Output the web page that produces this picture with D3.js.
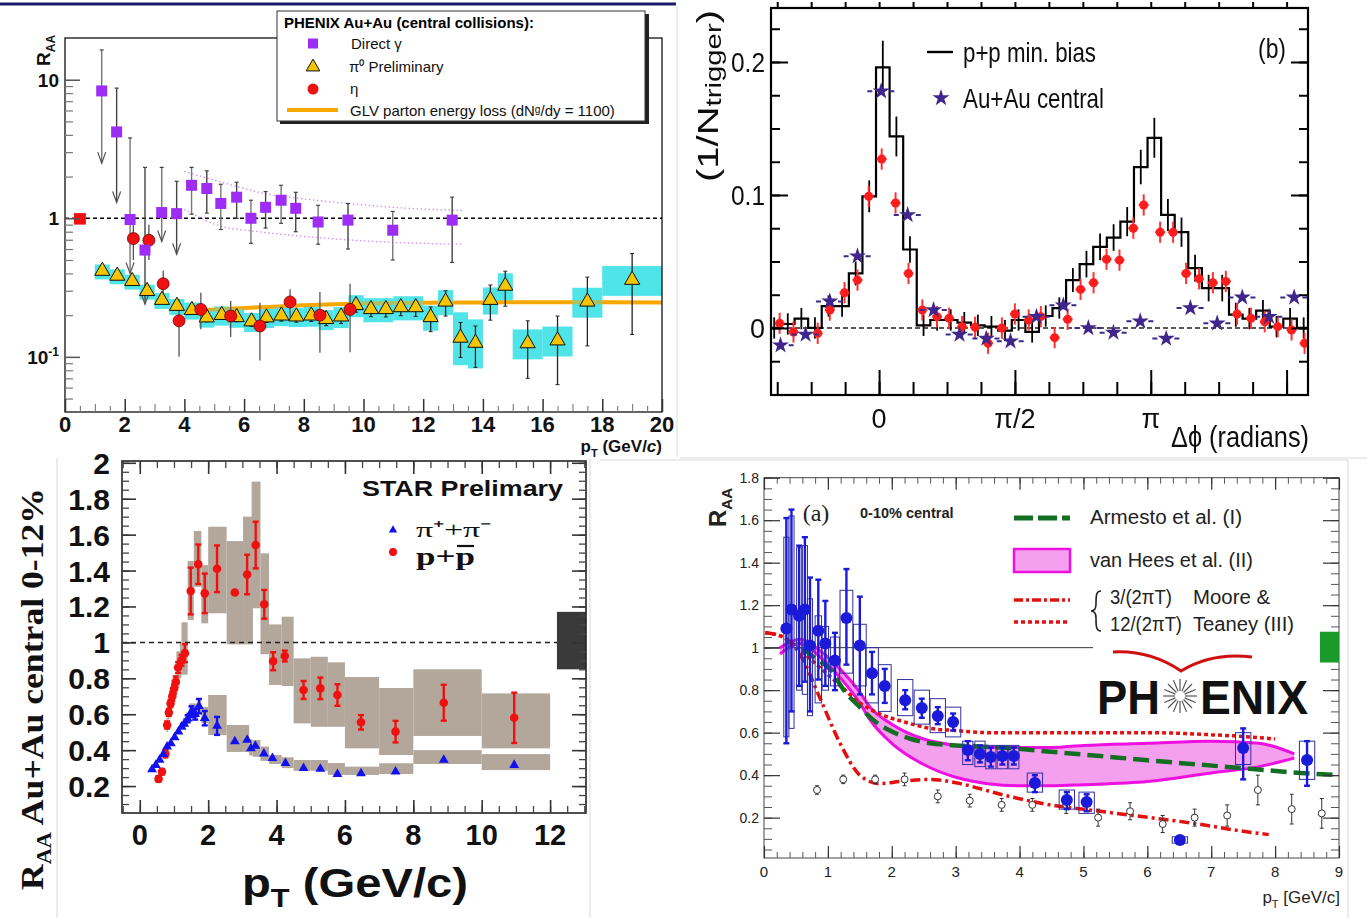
<!DOCTYPE html>
<html><head><meta charset="utf-8">
<script src="https://cdn.jsdelivr.net/npm/d3@7"></script>
<style>body{margin:0;background:#fff}svg{display:block}</style>
</head><body>
<svg id="chart"></svg>
<script>
// ================= data: PHENIX Au+Au RAA (log scale) =================
const gammaPt    = [1.23,1.73,2.18,2.68,3.24,3.74,4.24,4.75,5.22,5.75,6.23,6.72,7.24,7.73,8.48,9.48,10.98,12.97];
const gammaRaa   = [8.3,4.2,0.98,0.59,1.10,1.08,1.73,1.64,1.28,1.42,1.00,1.20,1.35,1.18,0.94,0.97,0.82,0.97];
const gammaHi    = [16.4,8.7,3.8,2.33,2.33,1.85,2.33,2.2,1.76,1.82,1.35,1.56,1.73,1.54,1.24,1.28,1.12,1.42];
const gammaLo    = [2.5,1.3,0.4,0.24,0.68,0.55,1.07,1.09,0.83,1.0,0.66,0.85,0.92,0.8,0.65,0.6,0.5,0.48];
const gammaLimit = [1,1,1,1,1,1,0,0,0,0,0,0,0,0,0,0,0,0];
const gammaBandUpPt  = [4.0,5.4,6.75,8.0,9.8,11.5,13.3];
const gammaBandUp    = [2.18,1.78,1.5,1.38,1.26,1.18,1.14];
const gammaBandLoPt  = [4.0,5.2,6.5,8.0,9.0,11.0,13.3];
const gammaBandLo    = [1.16,0.88,0.8,0.74,0.71,0.67,0.65];

const pi0Pt    = [1.25,1.75,2.25,2.75,3.25,3.75,4.25,4.75,5.25,5.75,6.25,6.75,7.25,7.75,8.25,8.75,9.25,9.75,10.25,10.75,11.25,11.75,12.25,12.75,13.25,13.75,14.25,14.75,15.5,16.5,17.5,19];
const pi0Raa   = [0.41,0.378,0.346,0.293,0.253,0.229,0.214,0.189,0.197,0.19,0.177,0.189,0.195,0.192,0.195,0.184,0.192,0.232,0.217,0.217,0.224,0.224,0.19,0.246,0.135,0.124,0.253,0.32,0.123,0.129,0.246,0.353];
const pi0Hi    = [0.425,0.392,0.36,0.305,0.265,0.24,0.225,0.2,0.208,0.201,0.188,0.202,0.209,0.206,0.21,0.2,0.21,0.255,0.24,0.24,0.25,0.252,0.229,0.3,0.177,0.167,0.33,0.415,0.182,0.197,0.376,0.557];
const pi0Lo    = [0.395,0.364,0.333,0.281,0.242,0.218,0.203,0.179,0.186,0.179,0.166,0.177,0.181,0.178,0.18,0.168,0.174,0.21,0.195,0.194,0.198,0.196,0.152,0.197,0.099,0.084,0.184,0.232,0.07,0.063,0.12,0.145];
const pi0BinLo = [1.0,1.5,2.0,2.5,3.0,3.5,4.0,4.5,5.0,5.5,6.0,6.5,7.0,7.5,8.0,8.5,9.0,9.5,10.0,10.5,11.0,11.5,12.0,12.5,13.0,13.5,14.0,14.5,15,16,17,18];
const pi0BinHi = [1.5,2.0,2.5,3.0,3.5,4.0,4.5,5.0,5.5,6.0,6.5,7.0,7.5,8.0,8.5,9.0,9.5,10.0,10.5,11.0,11.5,12.0,12.5,13.0,13.5,14.0,14.5,15,16,17,18,20];
const pi0SysFactor = [1.13,1.13,1.13,1.13,1.14,1.14,1.15,1.16,1.17,1.17,1.17,1.17,1.17,1.17,1.18,1.18,1.19,1.2,1.22,1.22,1.22,1.22,1.23,1.23,1.55,1.5,1.25,1.25,1.28,1.28,1.28,1.28];

const etaPt  = [2.29,2.81,3.29,3.82,4.55,5.55,6.53,7.54,8.54,9.55];
const etaRaa = [0.714,0.694,0.337,0.182,0.22,0.197,0.167,0.249,0.2,0.22];
const etaHi  = [0.95,0.9,0.42,0.26,0.29,0.253,0.246,0.307,0.294,0.337];
const etaLo  = [0.5,0.5,0.27,0.1,0.158,0.139,0.094,0.192,0.107,0.108];

const glvPt  = [4.4,5,6,7,8,9,10,12,14,16,18,20];
const glvRaa = [0.215,0.22,0.225,0.23,0.236,0.24,0.243,0.246,0.247,0.248,0.248,0.247];

const aYTicks = [0.1, 1, 10];
const aXTicks = [0,2,4,6,8,10,12,14,16,18,20];

// ================= data: azimuthal correlations =================
const ppPhi   = [-1.213,-1.056,-0.899,-0.742,-0.585,-0.428,-0.271,-0.114,0.043,0.200,0.357,0.514,0.671,0.828,0.985,1.142,1.299,1.456,1.613,1.770,1.927,2.084,2.241,2.398,2.555,2.712,2.869,3.026,3.183,3.340,3.497,3.654,3.811,3.968,4.125,4.282,4.439,4.596,4.753,4.910];
const ppYield = [0.000,0.003,0.007,0.000,0.0165,0.0165,0.041,0.099,0.196,0.144,0.059,0.002,0.006,0.006,0.004,0.002,0.001,-0.002,0.006,-0.003,0.009,0.015,0.036,0.048,0.061,0.068,0.080,0.121,0.143,0.085,0.072,0.045,0.030,0.030,0.010,0.007,0.013,0.001,0.007,0.000];
const ppErr   = [0.008,0.008,0.008,0.008,0.008,0.008,0.009,0.012,0.02,0.015,0.01,0.008,0.008,0.008,0.008,0.008,0.008,0.008,0.008,0.008,0.008,0.008,0.009,0.01,0.01,0.01,0.011,0.013,0.015,0.012,0.011,0.01,0.01,0.01,0.009,0.008,0.008,0.008,0.008,0.008];
const ppBinWidth = 0.157;

const auPhi   = [-1.14,-0.85,-0.57,-0.25,0.024,0.33,0.63,0.93,1.24,1.52,1.82,2.13,2.42,2.71,3.02,3.32,3.60,3.91,4.20,4.51,4.80];
const auYield = [-0.013,-0.005,0.020,0.054,0.178,0.085,0.0135,-0.005,-0.008,-0.010,0.0085,0.017,0.0,-0.0035,0.005,-0.008,0.015,0.0035,0.023,0.0085,0.023];
const auHalfWidth = 0.16;

const daPhi   = [-1.15,-0.99,-0.71,-0.57,-0.40,-0.25,-0.12,0.03,0.19,0.34,0.50,0.67,0.81,0.96,1.11,1.26,1.42,1.57,1.73,1.87,2.03,2.18,2.33,2.48,2.63,2.78,2.94,3.06,3.25,3.40,3.55,3.70,3.86,4.01,4.14,4.30,4.46,4.61,4.77,4.92];
const daYield = [0.0035,-0.003,-0.004,0.0135,0.0265,0.036,0.099,0.127,0.094,0.041,0.0135,0.0085,0.0073,0.001,0.0005,-0.0115,0.0,0.0105,0.006,0.0085,-0.0073,0.0065,0.029,0.034,0.0517,0.051,0.075,0.0925,0.072,0.072,0.041,0.037,0.034,0.035,0.0105,0.0073,0.0047,0.001,-0.0015,-0.0115];
const daErr   = 0.008;

const bXTicks = [0, Math.PI/2, Math.PI, 3*Math.PI/2];
const bXLabels = ["0", "\u03c0/2", "\u03c0", ""];
const bYTicks = [0, 0.1, 0.2];

// ================= data: STAR identified RAA =================
const protonPt  = [0.55,0.65,0.75,0.8,0.85,0.9,0.95,1.0,1.05,1.12,1.22,1.32,1.49,1.71,1.90,2.26,2.78,3.14,3.39,3.64,3.90,4.24,4.79,5.28,5.78,6.47,7.48,8.89,10.95];
const protonRaa = [0.24,0.28,0.38,0.54,0.61,0.66,0.70,0.74,0.78,0.86,0.9,0.94,1.286,1.435,1.273,1.41,1.278,1.378,1.542,1.212,0.895,0.924,0.735,0.744,0.707,0.555,0.503,0.664,0.58];
const protonErr = [0.015,0.015,0.02,0.02,0.02,0.02,0.025,0.025,0.03,0.03,0.03,0.05,0.13,0.11,0.11,0.13,0,0.11,0.13,0.08,0.05,0.03,0.05,0.06,0.06,0.04,0.06,0.1,0.14];
const protonSysLo = [0.22,0.26,0.35,0.5,0.57,0.62,0.66,0.75,0.75,0.76,0.8,0.82,1.125,1.31,1.106,1.162,0.989,0.989,1.19,0.934,0.763,0.757,0.549,0.53,0.53,0.41,0.373,0.479,0.41];
const protonSysHi = [0.26,0.3,0.41,0.58,0.65,0.7,0.74,0.8,0.82,0.95,1.0,1.112,1.453,1.62,1.43,1.644,1.564,1.70,1.895,1.496,1.10,1.143,0.911,0.92,0.889,0.807,0.746,0.85,0.716];
const protonBinLo = [0.52,0.62,0.72,0.78,0.83,0.88,0.93,0.97,1.02,1.07,1.17,1.22,1.4,1.58,1.8,2.0,2.54,3.02,3.27,3.53,3.78,4.15,4.5,5.0,5.5,6.0,7.0,8.0,10.0];
const protonBinHi = [0.58,0.68,0.78,0.82,0.87,0.92,0.97,1.03,1.07,1.17,1.22,1.4,1.58,1.8,2.0,2.54,3.02,3.31,3.53,3.78,4.15,4.5,5.0,5.5,6.0,7.0,8.0,10.0,12.0];

const pionPt  = [0.36,0.47,0.58,0.69,0.80,0.91,1.02,1.13,1.22,1.30,1.40,1.51,1.62,1.73,1.90,2.26,2.78,3.14,3.25,3.38,3.63,3.88,4.26,4.79,5.28,5.78,6.47,7.48,8.89,10.95];
const pionRaa = [0.293,0.317,0.345,0.378,0.419,0.438,0.471,0.503,0.53,0.546,0.575,0.614,0.6,0.645,0.578,0.535,0.448,0.457,0.41,0.423,0.38,0.355,0.327,0.299,0.296,0.266,0.27,0.28,0.345,0.317];
const pionErr = [0,0,0,0,0,0,0,0,0,0,0.02,0.03,0.03,0.04,0.04,0.05,0,0,0,0,0,0,0,0,0,0,0,0,0,0];
const pionSysLo = [0.293,0.317,0.345,0.378,0.419,0.438,0.471,0.503,0.53,0.52,0.55,0.58,0.58,0.6,0.55,0.484,0.39,0.39,0.37,0.363,0.34,0.323,0.3,0.285,0.285,0.262,0.262,0.267,0.323,0.289];
const pionSysHi = [0.293,0.317,0.345,0.378,0.419,0.438,0.471,0.503,0.53,0.58,0.61,0.66,0.66,0.68,0.64,0.707,0.54,0.54,0.46,0.456,0.42,0.373,0.36,0.345,0.345,0.328,0.308,0.327,0.4,0.378];
const pionBinLo = [0.33,0.44,0.55,0.66,0.77,0.88,0.99,1.1,1.18,1.26,1.35,1.45,1.58,1.7,1.8,2.0,2.54,3.02,3.2,3.3,3.53,3.78,4.15,4.5,5.0,5.5,6.0,7.0,8.0,10.0];
const pionBinHi = [0.39,0.5,0.61,0.72,0.83,0.94,1.05,1.16,1.26,1.34,1.45,1.58,1.7,1.8,2.0,2.54,3.02,3.2,3.3,3.53,3.78,4.15,4.5,5.0,5.5,6.0,7.0,8.0,10.0,12.0];

const cYTicks = [0.2,0.4,0.6,0.8,1,1.2,1.4,1.6,1.8,2];
const cXTicks = [0,2,4,6,8,10,12];

// ================= data: PHENIX heavy-flavour electron RAA =================
const hfPt    = [0.35,0.43,0.55,0.64,0.72,0.85,0.96,1.11,1.29,1.5,1.69,1.89,2.21,2.47,2.72,2.96,3.19,3.38,3.55,3.73,3.91,4.24,4.74,5.05,6.51,7.5,8.5];
const hfRaa   = [1.09,1.18,1.15,1.18,1.01,1.08,1.02,0.94,1.14,1.01,0.88,0.82,0.753,0.716,0.678,0.65,0.518,0.50,0.485,0.49,0.49,0.363,0.283,0.274,0.095,0.528,0.471];
const hfHi    = [1.61,1.65,1.48,1.52,1.33,1.32,1.22,1.07,1.37,1.24,0.98,0.9,0.8,0.76,0.72,0.69,0.56,0.54,0.53,0.53,0.53,0.4,0.32,0.31,0.11,0.62,0.56];
const hfLo    = [0.55,0.7,0.82,0.84,0.7,0.85,0.82,0.8,0.92,0.78,0.78,0.74,0.71,0.67,0.64,0.61,0.47,0.46,0.44,0.45,0.45,0.32,0.24,0.23,0.08,0.38,0.35];
const hfSysLo = [0.58,0.62,0.8,0.78,0.68,0.74,0.8,0.82,0.88,0.82,0.74,0.7,0.68,0.64,0.6,0.58,0.45,0.44,0.43,0.43,0.43,0.32,0.24,0.22,0.08,0.45,0.38];
const hfSysHi = [1.52,1.62,1.47,1.48,1.23,1.15,1.1,1.05,1.27,1.11,1.0,0.92,0.85,0.8,0.76,0.72,0.56,0.56,0.54,0.54,0.54,0.41,0.33,0.32,0.11,0.6,0.56];
const hfHalfW = [0.04,0.04,0.04,0.04,0.04,0.05,0.05,0.07,0.1,0.1,0.1,0.1,0.12,0.12,0.12,0.12,0.08,0.08,0.08,0.08,0.08,0.12,0.12,0.12,0.12,0.12,0.12];

const ePhxPt  = [0.83,1.24,1.74,2.2,2.72,3.22,3.72,4.2,4.73,5.23,5.73,6.24,6.74,7.25,7.73,8.26,8.73];
const ePhxRaa = [0.33,0.38,0.38,0.38,0.3,0.28,0.26,0.26,0.26,0.2,0.23,0.17,0.2,0.21,0.33,0.24,0.22];
const ePhxErr = [0.02,0.02,0.02,0.03,0.03,0.03,0.03,0.03,0.04,0.04,0.04,0.04,0.04,0.05,0.07,0.07,0.07];

const armPt  = [0.6,0.8,1.03,1.25,1.5,1.75,1.97,2.3,2.6,3.0,3.7,4.5,5.26,6.0,6.8,7.6,8.4,9.0];
const armRaa = [1.0,0.95,0.9,0.8,0.72,0.65,0.61,0.57,0.55,0.54,0.53,0.51,0.49,0.47,0.45,0.43,0.41,0.4];

const vhPt = [0.25,0.56,0.9,1.19,1.5,1.66,2.0,2.5,3.0,3.5,4.0,4.5,5.0,6.0,7.0,7.75,8.3];
const vhUp = [1.0,1.04,0.98,0.9,0.79,0.72,0.64,0.57,0.54,0.53,0.53,0.53,0.54,0.55,0.56,0.55,0.5];
const vhLo = [0.97,1.02,0.95,0.86,0.74,0.66,0.55,0.45,0.39,0.36,0.35,0.35,0.355,0.37,0.41,0.44,0.48];

const mt3Pt  = [0.02,0.3,0.56,0.88,1.19,1.5,1.8,2.13,2.6,3.07,3.7,4.48,5.26,6.04,6.8,7.4,7.9];
const mt3Raa = [1.07,1.05,0.97,0.76,0.55,0.4,0.36,0.37,0.38,0.36,0.31,0.26,0.23,0.2,0.17,0.14,0.12];
const mt12Pt  = [0.02,0.3,0.56,0.9,1.2,1.5,1.8,2.2,2.6,3.0,3.5,4.0,5.0,6.0,7.0,7.6,8.0];
const mt12Raa = [1.07,1.05,0.99,0.9,0.82,0.74,0.69,0.65,0.62,0.61,0.6,0.6,0.6,0.6,0.59,0.58,0.57];

const dYTicks = [0.2,0.4,0.6,0.8,1,1.2,1.4,1.6,1.8];
const dXTicks = [0,1,2,3,4,5,6,7,8,9];

// ================= drawing helpers =================
const W = 1367, H = 918;
const svg = d3.select("#chart").attr("width", W).attr("height", H);
svg.append("rect").attr("width", W).attr("height", H).attr("fill", "#fff");

const SANS = "'Liberation Sans', Arial, Helvetica, sans-serif";
const SERIF = "'Liberation Serif', 'Times New Roman', serif";

function ticks(g, axisFn, scale, values, len, pos, color, width) {
  const ax = axisFn(scale).tickValues(values).tickSize(len).tickFormat("");
  const sel = g.append("g").attr("transform", pos).call(ax);
  sel.select(".domain").remove();
  sel.selectAll("line").attr("stroke", color || "#222").attr("stroke-width", width || 1.2);
  return sel;
}
function vbar(g, x, y1, y2, color, w) {
  g.append("line").attr("x1", x).attr("x2", x).attr("y1", y1).attr("y2", y2)
    .attr("stroke", color).attr("stroke-width", w || 1.2);
}
function hbar(g, x1, x2, y, color, w, dash) {
  const l = g.append("line").attr("x1", x1).attr("x2", x2).attr("y1", y).attr("y2", y)
    .attr("stroke", color).attr("stroke-width", w || 1.2);
  if (dash) l.attr("stroke-dasharray", dash);
  return l;
}
function range(a, b, s) { const r = []; for (let v = a; v <= b + 1e-9; v += s) r.push(+v.toFixed(4)); return r; }

// panel borders
const border = svg.append("g").attr("stroke", "#d8d8d8").attr("stroke-width", 1).attr("fill", "none");
border.append("line").attr("x1", 677).attr("x2", 677).attr("y1", 6).attr("y2", 457);
border.append("line").attr("x1", 680).attr("x2", 1367).attr("y1", 458).attr("y2", 458);
border.append("line").attr("x1", 57).attr("x2", 57).attr("y1", 458).attr("y2", 918);
border.append("line").attr("x1", 590).attr("x2", 590).attr("y1", 458).attr("y2", 918);
border.append("line").attr("x1", 600).attr("x2", 1348).attr("y1", 460).attr("y2", 460);
border.append("line").attr("x1", 1348).attr("x2", 1348).attr("y1", 460).attr("y2", 918);

// ================= panel A =================
{
  const g = svg.append("g");
  const x = d3.scaleLinear().domain([0, 20]).range([65, 662]);
  const y = d3.scaleLog().domain([0.04, 20]).range([412, 38]);
  const [L, R] = x.range(), [B, T] = y.range();

  g.append("line").attr("x1", 0).attr("x2", 676).attr("y1", 4).attr("y2", 4)
    .attr("stroke", "#1b1b6b").attr("stroke-width", 3);

  // systematic boxes for pi0
  const boxes = (op) => g.append("g").attr("opacity", op).selectAll("rect").data(pi0Pt).join("rect")
    .attr("x", (d, i) => x(pi0BinLo[i])).attr("width", (d, i) => x(pi0BinHi[i]) - x(pi0BinLo[i]))
    .attr("y", (d, i) => y(pi0Raa[i] * pi0SysFactor[i]))
    .attr("height", (d, i) => y(pi0Raa[i] / pi0SysFactor[i]) - y(pi0Raa[i] * pi0SysFactor[i]))
    .attr("fill", "#4fe4e8");
  boxes(1);
  // GLV curve
  const line = d3.line().x(d => x(d[0])).y(d => y(d[1])).curve(d3.curveMonotoneX);
  g.append("path").attr("d", line(glvPt.map((p, i) => [p, glvRaa[i]])))
    .attr("fill", "none").attr("stroke", "#f7a800").attr("stroke-width", 4);
  boxes(0.45);

  // dashed unity line
  hbar(g, L, R, y(1), "#000", 1.6, "4,3");
  // normalization box
  g.append("rect").attr("x", x(0.3)).attr("width", x(0.7) - x(0.3))
    .attr("y", y(1.09)).attr("height", y(0.9) - y(1.09)).attr("fill", "#f01010");

  // direct-photon theory band (dotted)
  [[gammaBandUpPt, gammaBandUp], [gammaBandLoPt, gammaBandLo]].forEach(([p, v]) => {
    g.append("path").attr("d", line(p.map((q, i) => [q, v[i]])))
      .attr("fill", "none").attr("stroke", "#c890f0").attr("stroke-width", 1.3).attr("stroke-dasharray", "1.5,2.5");
  });

  // frame
  g.append("rect").attr("x", L).attr("y", T).attr("width", R - L).attr("height", B - T)
    .attr("fill", "none").attr("stroke", "#111").attr("stroke-width", 1.3);

  // ticks
  const minorY = [];
  [0.01, 0.1, 1, 10].forEach(d => { for (let k = 2; k <= 9; k++) { const v = d * k; if (v > 0.04 && v < 20) minorY.push(v); } });
  ticks(g, d3.axisLeft, y, aYTicks, -15, `translate(${L},0)`, "#555", 1.5);
  ticks(g, d3.axisLeft, y, minorY, -8, `translate(${L},0)`, "#777", 1.2);
  ticks(g, d3.axisBottom, x, aXTicks, -13, `translate(0,${B})`, "#333", 1.5);
  ticks(g, d3.axisBottom, x, range(0.5, 19.5, 1), -6, `translate(0,${B})`, "#777", 1.1);
  ticks(g, d3.axisBottom, x, range(1, 19, 2), -8, `translate(0,${B})`, "#777", 1.1);

  // tick labels
  const lab = g.append("g").attr("font-family", SANS).attr("font-weight", "bold").attr("fill", "#111");
  lab.append("text").attr("x", L - 6).attr("y", y(10) + 7).attr("text-anchor", "end").attr("font-size", 19).text("10");
  lab.append("text").attr("x", L - 6).attr("y", y(1) + 7).attr("text-anchor", "end").attr("font-size", 19).text("1");
  const tm = lab.append("text").attr("x", L - 6).attr("y", y(0.1) + 7).attr("text-anchor", "end").attr("font-size", 19);
  tm.append("tspan").text("10");
  tm.append("tspan").attr("dy", -8).attr("font-size", 12).text("-1");
  lab.selectAll(".xt").data(aXTicks).join("text").attr("class", "xt")
    .attr("x", d => x(d)).attr("y", B + 20).attr("text-anchor", "middle").attr("font-size", 22).text(d => d);
  const xl = lab.append("text").attr("x", R).attr("y", 452).attr("text-anchor", "end").attr("font-size", 17);
  xl.append("tspan").text("p");
  xl.append("tspan").attr("dy", 5).attr("font-size", 11).text("T");
  xl.append("tspan").attr("dy", -5).text(" (GeV/");
  xl.append("tspan").attr("font-style", "italic").text("c");
  xl.append("tspan").text(")");
  const yl = lab.append("text").attr("transform", `translate(50,66) rotate(-90)`).attr("font-size", 19);
  yl.append("tspan").text("R");
  yl.append("tspan").attr("dy", 5).attr("font-size", 12).text("AA");

  // eta error bars and markers
  etaPt.forEach((p, i) => vbar(g, x(p), y(etaHi[i]), y(etaLo[i]), "#555", 1.3));
  // direct photon error bars / upper limits
  gammaPt.forEach((p, i) => {
    vbar(g, x(p), y(gammaHi[i]), y(gammaLo[i]), i % 2 ? "#444" : "#777", 1.4);
    hbar(g, x(p) - 2, x(p) + 2, y(gammaHi[i]), "#444", 1.2);
    if (gammaLimit[i]) {
      const xx = x(p), yy = y(gammaLo[i]);
      g.append("path").attr("d", `M${xx - 4},${yy - 11}L${xx},${yy}L${xx + 4},${yy - 11}`)
        .attr("fill", "none").attr("stroke", "#555").attr("stroke-width", 1.2);
    } else hbar(g, x(p) - 2, x(p) + 2, y(gammaLo[i]), "#444", 1.2);
  });
  // pi0 error bars
  pi0Pt.forEach((p, i) => {
    vbar(g, x(p), y(pi0Hi[i]), y(pi0Lo[i]), "#222", 1.3);
    hbar(g, x(p) - 2, x(p) + 2, y(pi0Hi[i]), "#222", 1);
    hbar(g, x(p) - 2, x(p) + 2, y(pi0Lo[i]), "#222", 1);
  });
  const tri = d3.symbol().type(d3.symbolTriangle).size(100);
  g.selectAll(".pi0").data(pi0Pt).join("path").attr("class", "pi0")
    .attr("transform", (d, i) => `translate(${x(d)},${y(pi0Raa[i]) - 1})`).attr("d", tri)
    .attr("fill", "#f7c400").attr("stroke", "#111").attr("stroke-width", 1);
  g.selectAll(".eta").data(etaPt).join("circle").attr("class", "eta")
    .attr("cx", d => x(d)).attr("cy", (d, i) => y(etaRaa[i])).attr("r", 6)
    .attr("fill", "#ee1111").attr("stroke", "#700").attr("stroke-width", 0.8);
  g.selectAll(".gam").data(gammaPt).join("rect").attr("class", "gam")
    .attr("x", d => x(d) - 5.5).attr("y", (d, i) => y(gammaRaa[i]) - 5.5).attr("width", 11).attr("height", 11)
    .attr("fill", "#9d2cf5");

  // legend
  const lg = g.append("g");
  lg.append("rect").attr("x", 280).attr("y", 14).attr("width", 369).attr("height", 110).attr("fill", "#222");
  lg.append("rect").attr("x", 277).attr("y", 11).attr("width", 368).attr("height", 110)
    .attr("fill", "#fff").attr("stroke", "#333").attr("stroke-width", 1);
  lg.append("text").attr("x", 284).attr("y", 28).attr("font-family", SANS).attr("font-weight", "bold")
    .attr("font-size", 15).text("PHENIX Au+Au (central collisions):");
  lg.append("rect").attr("x", 308).attr("y", 38.5).attr("width", 10).attr("height", 10).attr("fill", "#9d2cf5");
  lg.append("path").attr("transform", "translate(313,67)").attr("d", d3.symbol().type(d3.symbolTriangle).size(80))
    .attr("fill", "#f7c400").attr("stroke", "#111");
  lg.append("circle").attr("cx", 313).attr("cy", 89).attr("r", 5.5).attr("fill", "#ee1111");
  lg.append("line").attr("x1", 287).attr("x2", 338).attr("y1", 110).attr("y2", 110).attr("stroke", "#f7a800").attr("stroke-width", 4);
  const lt = lg.append("g").attr("font-family", SANS).attr("font-size", 15).attr("fill", "#111");
  lt.append("text").attr("x", 351).attr("y", 49).text("Direct \u03b3");
  lt.append("text").attr("x", 349).attr("y", 72).text("\u03c0\u2070 Preliminary");
  lt.append("text").attr("x", 350).attr("y", 94).text("\u03b7");
  lt.append("text").attr("x", 350).attr("y", 116).text("GLV parton energy loss (dN\u1d4d/dy = 1100)");
}

// ================= panel B =================
{
  const defs = svg.append("defs");
  defs.append("filter").attr("id", "soft").append("feGaussianBlur").attr("stdDeviation", 0.7);
  const g = svg.append("g").attr("filter", "url(#soft)");
  const x = d3.scaleLinear().domain([-1.25, 4.96]).range([771, 1308]);
  const y = d3.scaleLinear().domain([-0.0504, 0.2406]).range([395, 8]);
  const [L, R] = x.range(), [B, T] = y.range();
  const clip = defs.append("clipPath").attr("id", "clipB");
  clip.append("rect").attr("x", L).attr("y", T).attr("width", R - L).attr("height", B - T);

  // zero line
  hbar(g, L, R, y(0), "#222", 1.4, "5,3");

  const inner = g.append("g").attr("clip-path", "url(#clipB)");
  // p+p histogram
  const steps = ppPhi.map((c, i) => [c - ppBinWidth / 2, ppYield[i]]);
  steps.push([ppPhi[ppPhi.length - 1] + ppBinWidth / 2, ppYield[ppYield.length - 1]]);
  inner.append("path").attr("d", d3.line().x(d => x(d[0])).y(d => y(d[1])).curve(d3.curveStepAfter)(steps))
    .attr("fill", "none").attr("stroke", "#000").attr("stroke-width", 2.2);
  ppPhi.forEach((c, i) => vbar(inner, x(c), y(ppYield[i] + ppErr[i]), y(ppYield[i] - ppErr[i]), "#000", 1.8));

  // d+Au points (red)
  daPhi.forEach((c, i) => {
    vbar(inner, x(c), y(daYield[i] + daErr), y(daYield[i] - daErr), "#ff3333", 2);
    hbar(inner, x(c) - 5, x(c) + 5, y(daYield[i]), "#ff3333", 2);
  });
  inner.selectAll(".da").data(daPhi).join("circle").attr("class", "da")
    .attr("cx", d => x(d)).attr("cy", (d, i) => y(daYield[i])).attr("r", 4.5).attr("fill", "#ff1a1a");

  // Au+Au central stars
  auPhi.forEach((c, i) => {
    hbar(inner, x(c - auHalfWidth), x(c + auHalfWidth), y(auYield[i]), "#3a2a8a", 2, "5,6");
  });
  const star = d3.symbol().type(d3.symbolStar).size(90);
  inner.selectAll(".au").data(auPhi).join("path").attr("class", "au")
    .attr("transform", (d, i) => `translate(${x(d)},${y(auYield[i])})`).attr("d", star).attr("fill", "#40288c");

  // frame and ticks
  g.append("rect").attr("x", L).attr("y", T).attr("width", R - L).attr("height", B - T)
    .attr("fill", "none").attr("stroke", "#000").attr("stroke-width", 2.2);
  const minorPhi = range(-3, 12, 1).map(k => k * Math.PI / 8).filter(v => v > -1.25 && v < 4.96);
  ticks(g, d3.axisBottom, x, minorPhi, -13, `translate(0,${B})`, "#000", 2);
  ticks(g, d3.axisBottom, x, bXTicks, -25, `translate(0,${B})`, "#000", 2);
  ticks(g, d3.axisTop, x, minorPhi, 6, `translate(0,${T})`, "#000", 2);
  const minorY = range(-0.025, 0.225, 0.025);
  ticks(g, d3.axisLeft, y, minorY, -9, `translate(${L},0)`, "#000", 2);
  ticks(g, d3.axisLeft, y, bYTicks, -17, `translate(${L},0)`, "#000", 2);
  ticks(g, d3.axisRight, y, minorY, -9, `translate(${R},0)`, "#000", 2);
  ticks(g, d3.axisRight, y, bYTicks, -17, `translate(${R},0)`, "#000", 2);

  const txt = g.append("g").attr("font-family", SANS).attr("fill", "#111");
  txt.selectAll(".yl").data(bYTicks).join("text").attr("class", "yl")
    .attr("x", L - 6).attr("y", d => y(d) + 10).attr("text-anchor", "end").attr("font-size", 28)
    .attr("textLength", d => d === 0 ? 15 : 34).attr("lengthAdjust", "spacingAndGlyphs").text(d => d);
  txt.selectAll(".xl").data(bXTicks).join("text").attr("class", "xl")
    .attr("x", d => x(d)).attr("y", 428).attr("text-anchor", "middle").attr("font-size", 27)
    .text((d, i) => bXLabels[i]);
  txt.append("text").attr("x", 1309).attr("y", 447).attr("text-anchor", "end").attr("font-size", 30)
    .attr("textLength", 138).attr("lengthAdjust", "spacingAndGlyphs").text("\u0394\u03d5 (radians)");
  const ylab = txt.append("text").attr("transform", "translate(718,182) rotate(-90)").attr("font-size", 30)
    .attr("textLength", 172).attr("lengthAdjust", "spacingAndGlyphs");
  ylab.append("tspan").text("(1/N");
  ylab.append("tspan").attr("dy", 3).attr("font-size", 22).text("trigger");
  ylab.append("tspan").attr("dy", -3).text(")");

  // legend
  hbar(g, 927, 953, 52, "#000", 2.4);
  txt.append("text").attr("x", 963).attr("y", 62).attr("font-size", 28).attr("textLength", 133)
    .attr("lengthAdjust", "spacingAndGlyphs").text("p+p min. bias");
  g.append("path").attr("transform", "translate(941,98)").attr("d", star).attr("fill", "#40288c");
  txt.append("text").attr("x", 963).attr("y", 108).attr("font-size", 28).attr("textLength", 141)
    .attr("lengthAdjust", "spacingAndGlyphs").text("Au+Au central");
  txt.append("text").attr("x", 1272).attr("y", 58).attr("text-anchor", "middle").attr("font-size", 28)
    .attr("textLength", 28).attr("lengthAdjust", "spacingAndGlyphs").text("(b)");
}

// ================= panel C =================
{
  const g = svg.append("g");
  const x = d3.scaleLinear().domain([-0.52, 13.05]).range([122, 586]);
  const y = d3.scaleLinear().domain([0.05, 2.01]).range([813, 461]);
  const [L, R] = x.range(), [B, T] = y.range();
  const gray = "#b3a79b";

  // systematic boxes
  const sysBox = (pt, lo, hi, bl, bh) => g.append("g").selectAll("rect").data(pt).join("rect")
    .attr("x", (d, i) => x(bl[i])).attr("width", (d, i) => x(bh[i]) - x(bl[i]))
    .attr("y", (d, i) => y(hi[i])).attr("height", (d, i) => y(lo[i]) - y(hi[i])).attr("fill", gray);
  sysBox(protonPt, protonSysLo, protonSysHi, protonBinLo, protonBinHi);
  sysBox(pionPt, pionSysLo, pionSysHi, pionBinLo, pionBinHi);

  hbar(g, L, R, y(1), "#222", 1.5, "5,4");
  g.append("rect").attr("x", x(12.2)).attr("width", R - x(12.2)).attr("y", y(1.17)).attr("height", y(0.85) - y(1.17)).attr("fill", "#3a3a3a");

  // error bars with caps
  const ebar = (pt, v, e, color) => pt.forEach((p, i) => {
    if (!e[i]) return;
    vbar(g, x(p), y(v[i] + e[i]), y(v[i] - e[i]), color, 2.4);
    hbar(g, x(p) - 3, x(p) + 3, y(v[i] + e[i]), color, 2.4);
    hbar(g, x(p) - 3, x(p) + 3, y(v[i] - e[i]), color, 2.4);
  });
  ebar(protonPt, protonRaa, protonErr, "#f01010");
  ebar(pionPt, pionRaa, pionErr, "#1010f0");
  g.selectAll(".pr").data(protonPt).join("circle").attr("class", "pr")
    .attr("cx", d => x(d)).attr("cy", (d, i) => y(protonRaa[i])).attr("r", 4.3).attr("fill", "#f01010");
  const tri = d3.symbol().type(d3.symbolTriangle).size(42);
  g.selectAll(".pi").data(pionPt).join("path").attr("class", "pi")
    .attr("transform", (d, i) => `translate(${x(d)},${y(pionRaa[i])})`).attr("d", tri).attr("fill", "#1010f0");

  // frame + ticks
  g.append("rect").attr("x", L).attr("y", T).attr("width", R - L).attr("height", B - T)
    .attr("fill", "none").attr("stroke", "#222").attr("stroke-width", 1.6);
  const minY = range(0.1, 2.0, 0.05);
  ticks(g, d3.axisLeft, y, minY, -7, `translate(${L},0)`, "#444", 1.3);
  ticks(g, d3.axisLeft, y, cYTicks, -14, `translate(${L},0)`, "#333", 1.6);
  ticks(g, d3.axisRight, y, minY, -7, `translate(${R},0)`, "#444", 1.3);
  ticks(g, d3.axisRight, y, cYTicks, -14, `translate(${R},0)`, "#333", 1.6);
  const minX = range(-0.5, 13, 0.5);
  ticks(g, d3.axisBottom, x, minX, -7, `translate(0,${B})`, "#444", 1.3);
  ticks(g, d3.axisBottom, x, cXTicks, -13, `translate(0,${B})`, "#333", 1.6);
  ticks(g, d3.axisTop, x, minX, -7, `translate(0,${T})`, "#444", 1.3);
  ticks(g, d3.axisTop, x, cXTicks, -13, `translate(0,${T})`, "#333", 1.6);

  const lab = g.append("g").attr("font-family", SANS).attr("font-weight", "bold").attr("fill", "#111");
  lab.selectAll(".yl").data(cYTicks).join("text").attr("class", "yl")
    .attr("x", 110).attr("y", d => y(d) + 11).attr("text-anchor", "end").attr("font-size", 30).text(d => d);
  lab.selectAll(".xl").data(cXTicks).join("text").attr("class", "xl")
    .attr("x", d => x(d)).attr("y", 845).attr("text-anchor", "middle").attr("font-size", 29).text(d => d);
  const xl = lab.append("text").attr("x", 242).attr("y", 897).attr("font-size", 40)
    .attr("textLength", 226).attr("lengthAdjust", "spacingAndGlyphs");
  xl.append("tspan").text("p");
  xl.append("tspan").attr("dy", 10).attr("font-size", 26).text("T");
  xl.append("tspan").attr("dy", -10).text(" (GeV/c)");
  const yl = g.append("text").attr("transform", "translate(43,890) rotate(-90)").attr("font-family", SERIF)
    .attr("font-weight", "bold").attr("font-size", 32).attr("fill", "#111")
    .attr("textLength", 402).attr("lengthAdjust", "spacingAndGlyphs");
  yl.append("tspan").text("R");
  yl.append("tspan").attr("dy", 8).attr("font-size", 20).text("AA");
  yl.append("tspan").attr("dy", -8).text(" Au+Au central 0-12%");

  lab.append("text").attr("x", 362).attr("y", 496).attr("font-size", 22).attr("textLength", 201)
    .attr("lengthAdjust", "spacingAndGlyphs").text("STAR Prelimary");
  g.append("path").attr("transform", "translate(393,530)").attr("d", d3.symbol().type(d3.symbolTriangle).size(30)).attr("fill", "#1010f0");
  g.append("circle").attr("cx", 393).attr("cy", 552).attr("r", 4).attr("fill", "#f01010");
  g.append("text").attr("x", 416).attr("y", 537).attr("font-family", SERIF).attr("font-size", 22).attr("fill", "#111")
    .attr("textLength", 75).attr("lengthAdjust", "spacingAndGlyphs").text("\u03c0\u207a+\u03c0\u207b");
  g.append("text").attr("x", 416).attr("y", 565).attr("font-family", SERIF).attr("font-weight", "bold").attr("font-size", 25).attr("fill", "#111")
    .attr("textLength", 59).attr("lengthAdjust", "spacingAndGlyphs").text("p+p");
  hbar(g, 457, 474, 546, "#111", 2.2);
}

// ================= panel D =================
{
  const g = svg.append("g");
  const x = d3.scaleLinear().domain([0, 9]).range([764, 1339]);
  const y = d3.scaleLinear().domain([0.01, 1.8]).range([858, 477.7]);
  const [L, R] = x.range(), [B, T] = y.range();
  const line = d3.line().x(d => x(d[0])).y(d => y(d[1])).curve(d3.curveMonotoneX);

  // unity reference line
  hbar(g, L, 1093, y(1), "#333", 1);

  // van Hees band
  g.append("path").attr("d", d3.area().x(d => x(d[0])).y0(d => y(d[2])).y1(d => y(d[1])).curve(d3.curveMonotoneX)(vhPt.map((p, i) => [p, vhUp[i], vhLo[i]])))
    .attr("fill", "#f5a0ee").attr("stroke", "none");
  [vhUp, vhLo].forEach(v => g.append("path").attr("d", line(vhPt.map((p, i) => [p, v[i]])))
    .attr("fill", "none").attr("stroke", "#ee10e0").attr("stroke-width", 3));
  // Moore & Teaney
  g.append("path").attr("d", line(mt12Pt.map((p, i) => [p, mt12Raa[i]])))
    .attr("fill", "none").attr("stroke", "#e41010").attr("stroke-width", 3.5).attr("stroke-dasharray", "4,3");
  g.append("path").attr("d", line(mt3Pt.map((p, i) => [p, mt3Raa[i]])))
    .attr("fill", "none").attr("stroke", "#e41010").attr("stroke-width", 3.5).attr("stroke-dasharray", "10,4,3,4");
  // Armesto
  g.append("path").attr("d", line(armPt.map((p, i) => [p, armRaa[i]])))
    .attr("fill", "none").attr("stroke", "#126e22").attr("stroke-width", 4.5).attr("stroke-dasharray", "16,7");

  // black open circles
  ePhxPt.forEach((p, i) => {
    vbar(g, x(p), y(ePhxRaa[i] + ePhxErr[i]), y(ePhxRaa[i] - ePhxErr[i]), "#333", 1);
    hbar(g, x(p) - 2, x(p) + 2, y(ePhxRaa[i] + ePhxErr[i]), "#333", 1);
    hbar(g, x(p) - 2, x(p) + 2, y(ePhxRaa[i] - ePhxErr[i]), "#333", 1);
  });
  g.selectAll(".ep").data(ePhxPt).join("circle").attr("class", "ep")
    .attr("cx", d => x(d)).attr("cy", (d, i) => y(ePhxRaa[i])).attr("r", 3.5)
    .attr("fill", "#fff").attr("stroke", "#333").attr("stroke-width", 1);

  // heavy-flavour electrons: sys boxes, stat bars, markers
  g.selectAll(".hs").data(hfPt).join("rect").attr("class", "hs")
    .attr("x", (d, i) => x(d - hfHalfW[i])).attr("width", (d, i) => x(d + hfHalfW[i]) - x(d - hfHalfW[i]))
    .attr("y", (d, i) => y(hfSysHi[i])).attr("height", (d, i) => y(hfSysLo[i]) - y(hfSysHi[i]))
    .attr("fill", "none").attr("stroke", "#3030a0").attr("stroke-width", 1);
  hfPt.forEach((p, i) => {
    vbar(g, x(p), y(hfHi[i]), y(hfLo[i]), "#1a1ad8", 2.4);
    hbar(g, x(p) - 3, x(p) + 3, y(hfHi[i]), "#1a1ad8", 2.4);
    hbar(g, x(p) - 3, x(p) + 3, y(hfLo[i]), "#1a1ad8", 2.4);
  });
  g.selectAll(".hf").data(hfPt).join("circle").attr("class", "hf")
    .attr("cx", d => x(d)).attr("cy", (d, i) => y(hfRaa[i])).attr("r", 6).attr("fill", "#1a1ad8");

  // frame + ticks
  g.append("rect").attr("x", L).attr("y", T).attr("width", R - L).attr("height", B - T)
    .attr("fill", "none").attr("stroke", "#444").attr("stroke-width", 1);
  const minY = range(0.05, 1.8, 0.05);
  ticks(g, d3.axisLeft, y, minY, -8, `translate(${L},0)`, "#555", 1);
  ticks(g, d3.axisLeft, y, dYTicks, -16, `translate(${L},0)`, "#333", 1.2);
  ticks(g, d3.axisRight, y, minY, -8, `translate(${R},0)`, "#555", 1);
  ticks(g, d3.axisRight, y, dYTicks, -16, `translate(${R},0)`, "#333", 1.2);
  const minX = range(0.2, 8.8, 0.2);
  ticks(g, d3.axisBottom, x, minX, -6, `translate(0,${B})`, "#555", 1);
  ticks(g, d3.axisBottom, x, dXTicks, -12, `translate(0,${B})`, "#333", 1.2);
  ticks(g, d3.axisTop, x, minX, -6, `translate(0,${T})`, "#555", 1);
  ticks(g, d3.axisTop, x, dXTicks, -12, `translate(0,${T})`, "#333", 1.2);

  // normalization box
  g.append("rect").attr("x", 1320).attr("width", R - 1320).attr("y", y(1.075)).attr("height", y(0.93) - y(1.075)).attr("fill", "#1a9a2a");

  const lab = g.append("g").attr("font-family", SANS).attr("fill", "#222");
  lab.selectAll(".yl").data(dYTicks).join("text").attr("class", "yl")
    .attr("x", 759).attr("y", d => y(d) + 5).attr("text-anchor", "end").attr("font-size", 14).text(d => d);
  lab.selectAll(".xl").data(dXTicks).join("text").attr("class", "xl")
    .attr("x", d => x(d)).attr("y", 877).attr("text-anchor", "middle").attr("font-size", 15).text(d => d);
  const xl = lab.append("text").attr("x", 1340).attr("y", 903).attr("text-anchor", "end").attr("font-size", 17);
  xl.append("tspan").text("p");
  xl.append("tspan").attr("dy", 5).attr("font-size", 11).text("T");
  xl.append("tspan").attr("dy", -5).text(" [GeV/c]");
  const yl = lab.append("text").attr("transform", "translate(726,527) rotate(-90)").attr("font-size", 24).attr("font-weight", "bold");
  yl.append("tspan").text("R");
  yl.append("tspan").attr("dy", 6).attr("font-size", 15).text("AA");

  lab.append("text").attr("x", 816).attr("y", 521).attr("text-anchor", "middle").attr("font-family", SERIF).attr("font-size", 24).text("(a)");
  lab.append("text").attr("x", 860).attr("y", 518).attr("font-size", 14.5).attr("font-weight", "bold").text("0-10% central");
  const ls = lab.append("g").attr("font-size", 20);
  const legText = (tx, ty, len, s) => ls.append("text").attr("x", tx).attr("y", ty).attr("textLength", len)
    .attr("lengthAdjust", "spacingAndGlyphs").text(s);
  legText(1090, 524, 152, "Armesto et al. (I)");
  legText(1090, 567, 163, "van Hees et al. (II)");
  legText(1110, 604, 62, "3/(2\u03c0T)");
  legText(1110, 631, 72, "12/(2\u03c0T)");
  legText(1193, 604, 77, "Moore &");
  legText(1193, 631, 101, "Teaney (III)");
  hbar(g, 1014, 1070, 518, "#126e22", 5, "19,5");
  g.append("rect").attr("x", 1014).attr("y", 549).attr("width", 56).attr("height", 23).attr("fill", "#f5a0ee").attr("stroke", "#ee10e0").attr("stroke-width", 2.5);
  hbar(g, 1014, 1070, 600, "#e41010", 3.5, "9,3,3,3");
  hbar(g, 1014, 1070, 622, "#e41010", 3.5, "4,3");
  g.append("path").attr("d", "M1101,591 C1096,591 1096,596 1096,604 C1096,609 1094,611 1091,611 C1094,611 1096,613 1096,618 C1096,626 1096,631 1101,631")
    .attr("fill", "none").attr("stroke", "#222").attr("stroke-width", 1.6);

  // PHENIX logo
  g.append("path").attr("d", "M1113,652 Q1150,650 1181,671 Q1212,652 1252,657")
    .attr("fill", "none").attr("stroke", "#d01010").attr("stroke-width", 3);
  const logo = g.append("g").attr("font-family", SANS).attr("font-weight", "bold").attr("font-size", 48).attr("fill", "#111");
  logo.append("text").attr("x", 1097).attr("y", 714).attr("textLength", 63).attr("lengthAdjust", "spacingAndGlyphs").text("PH");
  logo.append("text").attr("x", 1200).attr("y", 714).attr("textLength", 108).attr("lengthAdjust", "spacingAndGlyphs").text("ENIX");
  const sun = g.append("g").attr("stroke", "#555").attr("stroke-width", 1.2);
  d3.range(16).forEach(k => {
    const a = k * Math.PI / 8;
    sun.append("line").attr("x1", 1180 + 5 * Math.cos(a)).attr("y1", 696 + 5 * Math.sin(a))
      .attr("x2", 1180 + 17 * Math.cos(a)).attr("y2", 696 + 17 * Math.sin(a));
  });
}
</script>
</body></html>
